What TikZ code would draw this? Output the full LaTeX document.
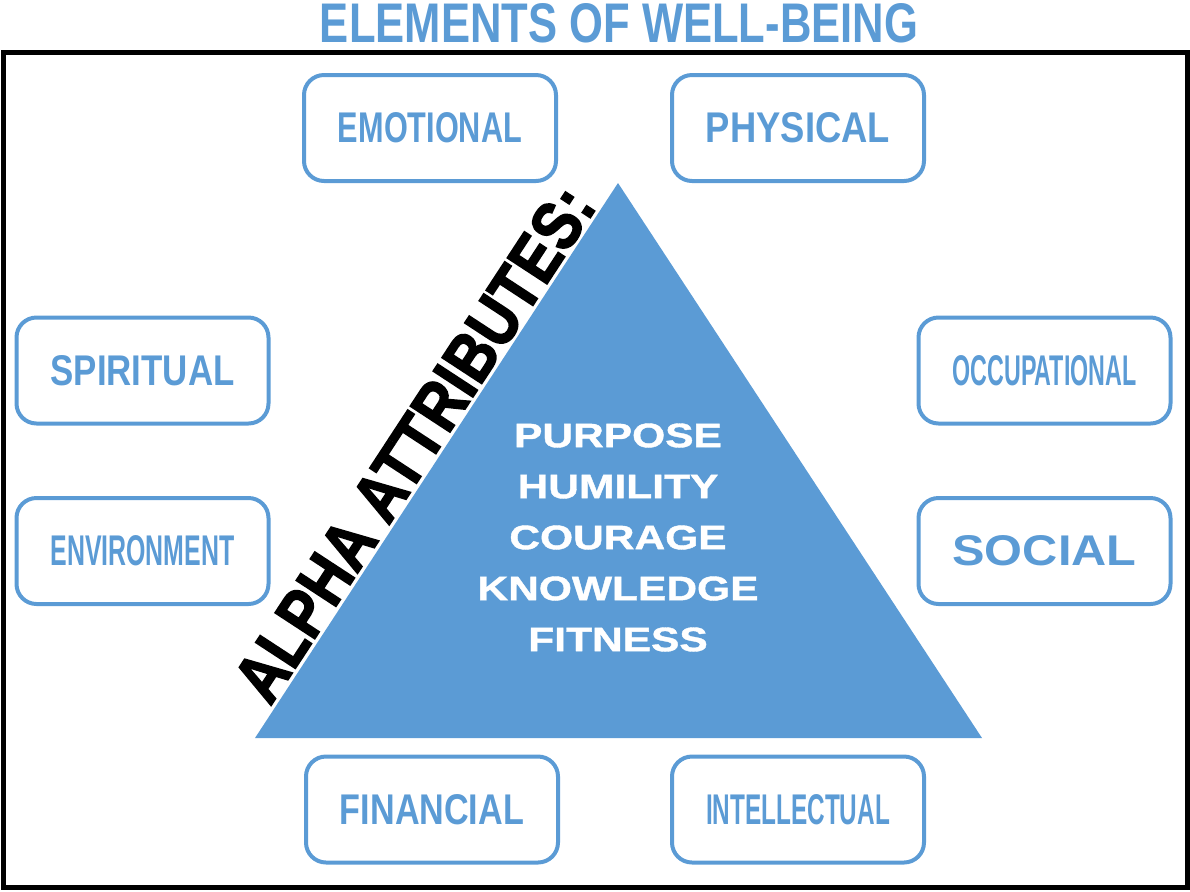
\documentclass[tikz,border=0pt]{standalone}
\usepackage{fontspec}
\setmainfont{Liberation Sans}
\newfontfamily\largefont[FakeStretch=1.25, FakeBold=1.2]{Liberation Sans}
\newfontfamily\lourdfont[FakeBold=2.5]{Liberation Sans}
\usepackage{graphicx}
\definecolor{bleu}{RGB}{91,155,213}
\newcommand{\etiq}[1]{\resizebox{92pt}{15pt}{\bfseries #1}}

\begin{document}
\begin{tikzpicture}[x=0.5pt, y=-0.5pt]
\tikzset{elem/.style={draw=bleu, line width=2pt, rounded corners=10pt, rectangle,
  minimum width=126pt, minimum height=53pt, inner sep=0pt, text=bleu}}
\useasboundingbox (0, 0) rectangle (1190, 891);
\draw[line width=2.5pt] (3.5, 52.5) rectangle (1187.5, 887);
\node[anchor=base, inner sep=0pt, text=bleu] (titre) at (619, 42)
  {\resizebox{299pt}{19.5pt}{\bfseries ELEMENTS OF WELL-BEING}};
% triangle
\coordinate (T) at (618, 183);
\coordinate (L) at (255, 738);
\coordinate (R) at (982, 738);
\fill[bleu] (T) -- (L) -- (R) -- cycle;
\node[align=center, inner sep=0pt, text=white, font=\largefont\bfseries\fontsize{17pt}{25.5pt}\selectfont]
  (attr) at (618, 537.5) {PURPOSE\\HUMILITY\\COURAGE\\KNOWLEDGE\\FITNESS};
\node[anchor=base west, inner sep=0pt, rotate=56.8] (alpha) at (270, 707)
  {\resizebox{299pt}{24pt}{\lourdfont\bfseries ALPHA ATTRIBUTES:}};
% elements
\node[elem] (E1) at (430, 128) {\etiq{EMOTIONAL}};
\node[elem] (E2) at (798, 128) {\etiq{PHYSICAL}};
\node[elem] (E3) at (142.5, 370.5) {\etiq{SPIRITUAL}};
\node[elem] (E4) at (142.5, 551) {\etiq{ENVIRONMENT}};
\node[elem] (E5) at (1044.5, 370.5) {\etiq{OCCUPATIONAL}};
\node[elem] (E6) at (1044.5, 551) {\etiq{SOCIAL}};
\node[elem] (E7) at (432, 809.5) {\etiq{FINANCIAL}};
\node[elem] (E8) at (798, 809.5) {\etiq{INTELLECTUAL}};
\end{tikzpicture}
\end{document}
